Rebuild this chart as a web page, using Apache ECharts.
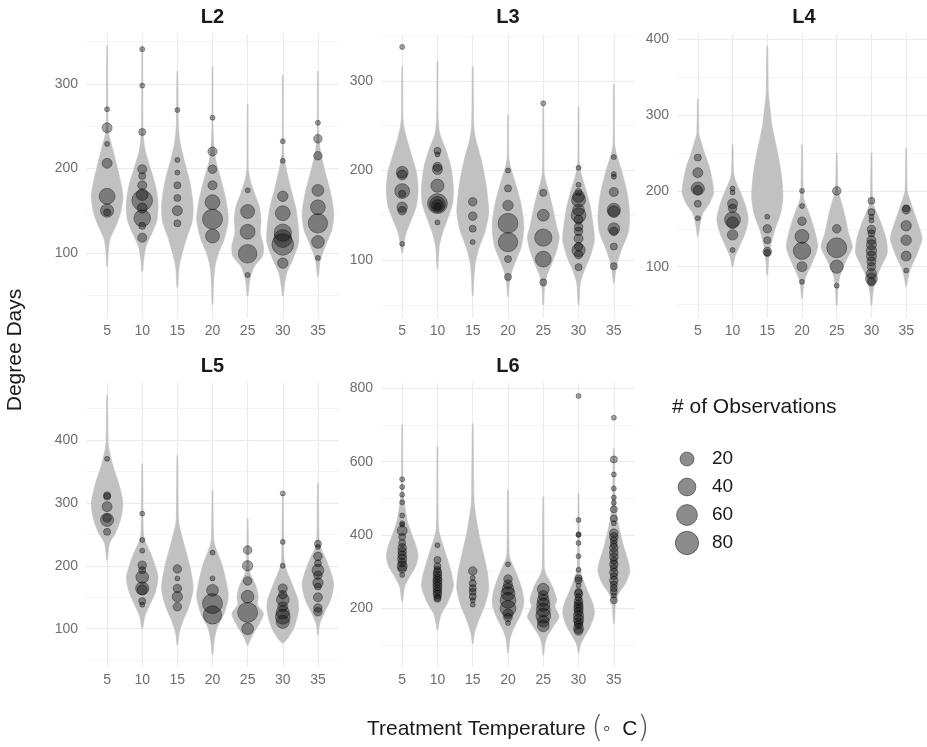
<!DOCTYPE html>
<html>
<head>
<meta charset="utf-8">
<script src="https://cdn.jsdelivr.net/npm/echarts@6/dist/echarts.min.js"></script>
<style>html,body{margin:0;padding:0;background:#fff;}#main{width:927px;height:747px;}</style>
</head>
<body>
<div id="main"></div>
<script>
// ---------- DATA ----------
const temps = [5, 10, 15, 20, 25, 30, 35];
const panelNames = ['L2', 'L3', 'L4', 'L5', 'L6'];
const legendCounts = [20, 40, 60, 80];

// y ranges and tick values per panel
const yRanges = [[23, 359], [35.2, 352.5], [32.3, 407], [39.2, 490.5], [40, 814.5]];
const yMajor = [[100, 200, 300], [100, 200, 300], [100, 200, 300, 400], [100, 200, 300, 400], [200, 400, 600, 800]];
const yMinor = [[50, 150, 250, 350], [50, 150, 250, 350], [50, 150, 250, 350], [50, 150, 250, 350, 450], [100, 300, 500, 700]];

// violin profiles: [degree days, half width as fraction of category spacing]
const violinL2 = [
  [[345,0.01],[260,0.02],[240,0.05],[226,0.14],[203,0.28],[185,0.38],[167,0.45],[147,0.38],[131,0.24],[116,0.08],[100,0.03],[84,0.01]],
  [[345,0.01],[250,0.02],[230,0.05],[218,0.1],[199,0.24],[179,0.38],[159,0.45],[139,0.42],[124,0.28],[108,0.11],[92,0.04],[78,0.01]],
  [[315,0.01],[250,0.03],[230,0.08],[210,0.19],[183,0.36],[155,0.45],[137,0.42],[120,0.28],[100,0.14],[84,0.05],[59,0.01]],
  [[321,0.01],[240,0.02],[210,0.09],[187,0.24],[163,0.38],[139,0.45],[116,0.33],[100,0.17],[84,0.07],[64,0.03],[39,0.01]],
  [[276,0.01],[200,0.02],[187,0.07],[171,0.19],[155,0.33],[139,0.38],[124,0.36],[108,0.45],[96,0.42],[84,0.19],[68,0.06],[49,0.01]],
  [[310,0.01],[220,0.02],[203,0.08],[179,0.21],[155,0.36],[132,0.44],[112,0.45],[92,0.28],[76,0.11],[60,0.04],[49,0.01]],
  [[315,0.01],[240,0.02],[218,0.08],[195,0.21],[171,0.36],[147,0.45],[128,0.4],[108,0.21],[92,0.07],[72,0.01]]
];
const violinL3 = [
  [[316,0.01],[260,0.02],[249,0.05],[234,0.14],[215,0.28],[197,0.41],[178,0.45],[160,0.4],[145,0.26],[130,0.11],[115,0.04],[108,0.01]],
  [[322,0.01],[260,0.02],[241,0.07],[223,0.24],[204,0.38],[182,0.45],[163,0.43],[145,0.28],[130,0.14],[115,0.05],[90,0.01]],
  [[316,0.01],[250,0.03],[234,0.09],[212,0.24],[189,0.36],[167,0.43],[152,0.45],[133,0.36],[115,0.19],[96,0.07],[78,0.03],[60,0.01]],
  [[262,0.01],[215,0.02],[204,0.07],[182,0.24],[160,0.38],[137,0.45],[115,0.38],[100,0.23],[85,0.09],[70,0.03],[59,0.01]],
  [[273,0.01],[200,0.02],[189,0.06],[174,0.17],[156,0.28],[137,0.38],[126,0.45],[111,0.38],[96,0.24],[81,0.09],[66,0.03],[50,0.01]],
  [[271,0.01],[210,0.02],[197,0.07],[178,0.21],[160,0.33],[137,0.42],[122,0.45],[104,0.33],[89,0.17],[74,0.05],[50,0.01]],
  [[296,0.01],[230,0.02],[219,0.07],[197,0.24],[174,0.38],[148,0.45],[130,0.4],[111,0.21],[93,0.07],[74,0.01]]
];
const violinL4 = [
  [[321,0.01],[275,0.03],[267,0.08],[250,0.19],[232,0.33],[210,0.43],[197,0.45],[183,0.33],[170,0.14],[153,0.05],[140,0.01]],
  [[261,0.01],[225,0.03],[214,0.08],[197,0.24],[179,0.38],[162,0.45],[144,0.36],[126,0.19],[113,0.07],[100,0.01]],
  [[391,0.01],[330,0.03],[320,0.05],[285,0.14],[254,0.28],[223,0.4],[192,0.45],[170,0.38],[148,0.21],[126,0.09],[109,0.04],[89,0.01]],
  [[261,0.01],[200,0.03],[188,0.06],[170,0.21],[148,0.36],[126,0.45],[104,0.28],[87,0.11],[74,0.04],[58,0.01]],
  [[250,0.01],[205,0.03],[197,0.06],[179,0.17],[162,0.26],[144,0.34],[126,0.45],[109,0.28],[91,0.11],[74,0.04],[49,0.01]],
  [[250,0.01],[190,0.03],[179,0.08],[157,0.28],[135,0.43],[117,0.45],[100,0.28],[82,0.11],[65,0.04],[49,0.01]],
  [[256,0.01],[200,0.03],[192,0.08],[170,0.24],[144,0.43],[135,0.45],[113,0.28],[96,0.11],[82,0.04],[74,0.01]]
];
const violinL5 = [
  [[471,0.01],[395,0.03],[384,0.06],[358,0.17],[331,0.33],[299,0.45],[273,0.38],[252,0.24],[236,0.07],[209,0.01]],
  [[362,0.01],[255,0.03],[241,0.07],[220,0.24],[198,0.38],[180,0.45],[156,0.36],[135,0.19],[119,0.07],[100,0.01]],
  [[376,0.01],[275,0.03],[262,0.06],[230,0.21],[198,0.36],[164,0.45],[135,0.33],[114,0.17],[93,0.05],[74,0.01]],
  [[320,0.01],[245,0.03],[230,0.08],[204,0.26],[172,0.4],[151,0.45],[124,0.33],[103,0.14],[82,0.05],[59,0.01]],
  [[275,0.01],[200,0.03],[188,0.07],[167,0.24],[151,0.3],[138,0.28],[124,0.45],[103,0.28],[87,0.11],[74,0.01]],
  [[313,0.01],[215,0.03],[198,0.07],[172,0.26],[146,0.43],[130,0.45],[103,0.33],[87,0.17],[80,0.07],[77,0.01]],
  [[331,0.01],[245,0.03],[230,0.07],[209,0.24],[188,0.38],[170,0.45],[146,0.36],[124,0.17],[108,0.05],[90,0.01]]
];
const violinL6 = [
  [[700,0.01],[520,0.02],[495,0.05],[441,0.14],[405,0.26],[368,0.4],[341,0.45],[314,0.38],[286,0.21],[259,0.07],[218,0.01]],
  [[641,0.01],[420,0.03],[386,0.11],[341,0.26],[295,0.4],[259,0.45],[214,0.28],[186,0.11],[159,0.04],[141,0.01]],
  [[704,0.01],[520,0.03],[477,0.05],[405,0.17],[350,0.3],[295,0.42],[250,0.45],[205,0.33],[168,0.17],[132,0.05],[104,0.01]],
  [[523,0.01],[350,0.03],[332,0.07],[295,0.24],[250,0.4],[214,0.45],[177,0.33],[141,0.14],[114,0.05],[79,0.01]],
  [[504,0.01],[310,0.03],[295,0.07],[259,0.26],[223,0.38],[205,0.33],[177,0.45],[150,0.28],[123,0.11],[100,0.04],[73,0.01]],
  [[513,0.01],[320,0.03],[295,0.07],[250,0.24],[214,0.4],[186,0.45],[150,0.33],[123,0.17],[100,0.05],[79,0.01]],
  [[636,0.01],[520,0.03],[477,0.05],[423,0.14],[368,0.28],[323,0.42],[300,0.45],[268,0.33],[241,0.14],[214,0.05],[159,0.01]]
];

// observation points: [temperature, degree days, # of observations]
const pointsL2 = [
  [5,270,1],[5,248,7],[5,229,1],[5,206,7],[5,167,29],[5,150,17],[5,148,2],
  [10,341,1],[10,298,1],[10,243,2],[10,199,5],[10,191,2],[10,180,5],[10,169,12],[10,162,59],[10,153,7],[10,141,33],[10,132,2],[10,118,5],
  [15,269,1],[15,210,1],[15,195,1],[15,180,2],[15,165,2],[15,150,7],[15,135,2],
  [20,260,1],[20,220,5],[20,199,4],[20,180,5],[20,160,24],[20,140,54],[20,120,20],
  [25,174,1],[25,149,20],[25,125,24],[25,99,45],[25,74,1],
  [30,232,1],[30,209,1],[30,167,8],[30,147,24],[30,124,37],[30,117,40],[30,110,66],[30,88,8],
  [35,254,1],[35,235,4],[35,215,4],[35,174,12],[35,154,24],[35,135,50],[35,113,15],[35,94,1]
];
const pointsL3 = [
  [5,338,1],[5,198,12],[5,195,7],[5,177,24],[5,174,2],[5,159,8],[5,155,4],[5,118,1],
  [10,222,2],[10,218,1],[10,204,5],[10,201,7],[10,183,17],[10,163,54],[10,162,29],[10,161,12],[10,160,2],[10,142,1],
  [15,165,4],[15,149,4],[15,135,2],[15,120,1],
  [20,200,1],[20,180,2],[20,161,8],[20,141,54],[20,120,50],[20,101,2],[20,81,2],
  [25,275,1],[25,175,2],[25,150,12],[25,125,37],[25,101,29],[25,75,2],
  [30,203,1],[30,184,1],[30,176,2],[30,171,12],[30,167,20],[30,156,12],[30,150,24],[30,145,5],[30,137,4],[30,132,4],[30,124,5],[30,115,4],[30,111,17],[30,106,4],[30,92,2],
  [35,215,1],[35,196,1],[35,193,1],[35,176,5],[35,156,17],[35,154,12],[35,135,12],[35,132,4],[35,115,2],[35,93,2]
];
const pointsL4 = [
  [5,244,2],[5,224,7],[5,203,17],[5,201,5],[5,183,2],[5,164,1],
  [10,203,1],[10,198,1],[10,183,7],[10,177,4],[10,162,29],[10,158,12],[10,142,8],[10,122,1],
  [15,166,1],[15,150,4],[15,135,2],[15,120,4],[15,118,2],
  [20,200,1],[20,180,1],[20,160,4],[20,140,20],[20,121,37],[20,100,7],[20,80,1],
  [25,200,4],[25,150,4],[25,125,54],[25,100,17],[25,75,1],
  [30,187,2],[30,172,2],[30,166,1],[30,161,1],[30,149,4],[30,144,2],[30,135,5],[30,129,7],[30,121,8],[30,114,7],[30,107,5],[30,100,4],[30,91,7],[30,84,12],[30,80,4],
  [35,177,2],[35,175,4],[35,154,8],[35,135,8],[35,114,7],[35,95,1]
];
const pointsL5 = [
  [5,370,1],[5,312,2],[5,310,2],[5,294,7],[5,276,4],[5,273,17],[5,254,2],
  [10,283,1],[10,241,1],[10,224,1],[10,201,4],[10,193,2],[10,182,15],[10,164,17],[10,162,7],[10,144,2],[10,138,1],
  [15,195,4],[15,180,1],[15,164,4],[15,151,8],[15,135,4],
  [20,221,1],[20,180,1],[20,161,12],[20,140,54],[20,122,43],
  [25,225,4],[25,200,8],[25,176,4],[25,151,15],[25,126,54],[25,100,12],
  [30,315,1],[30,238,1],[30,200,1],[30,164,5],[30,154,4],[30,146,15],[30,135,7],[30,126,17],[30,119,24],[30,111,17],
  [35,235,2],[35,230,1],[35,215,4],[35,204,2],[35,193,12],[35,185,4],[35,173,8],[35,167,2],[35,150,5],[35,133,4],[35,127,4]
];
const pointsL6 = [
  [5,552,1],[5,531,1],[5,510,1],[5,489,1],[5,453,1],[5,432,1],[5,428,1],[5,412,7],[5,395,2],[5,378,2],[5,365,4],[5,355,4],[5,345,4],[5,335,5],[5,325,4],[5,315,7],[5,308,4],[5,291,1],
  [10,372,1],[10,332,2],[10,315,2],[10,305,2],[10,298,4],[10,290,4],[10,282,4],[10,275,5],[10,268,4],[10,260,5],[10,252,4],[10,245,4],[10,238,4],[10,230,2],[10,226,2],
  [15,302,4],[15,283,1],[15,268,2],[15,255,2],[15,245,2],[15,232,2],[15,222,1],[15,210,1],
  [20,320,1],[20,280,4],[20,265,5],[20,252,12],[20,240,20],[20,222,29],[20,200,29],[20,185,7],[20,175,4],[20,160,1],
  [25,252,12],[25,235,7],[25,222,12],[25,210,17],[25,195,20],[25,180,24],[25,165,12],[25,152,12],
  [30,779,1],[30,441,1],[30,402,1],[30,400,1],[30,378,1],[30,342,1],[30,305,1],[30,282,2],[30,276,2],[30,262,1],[30,245,2],[30,240,4],[30,230,2],[30,220,4],[30,212,4],[30,205,5],[30,198,5],[30,190,5],[30,180,7],[30,170,7],[30,162,5],[30,155,4],[30,145,7],[30,138,4],
  [35,720,1],[35,606,2],[35,565,1],[35,527,1],[35,502,1],[35,488,1],[35,470,2],[35,445,2],[35,432,1],[35,405,4],[35,395,4],[35,385,2],[35,375,2],[35,365,4],[35,352,4],[35,340,4],[35,330,2],[35,320,4],[35,310,2],[35,298,4],[35,288,2],[35,276,4],[35,265,2],[35,255,2],[35,245,2],[35,235,1],[35,222,2]
];

// ---------- CHART ----------
const violins = [violinL2, violinL3, violinL4, violinL5, violinL6];
const points = [pointsL2, pointsL3, pointsL4, pointsL5, pointsL6];
const FONT = '"Liberation Sans", Arial, sans-serif';
const gridBoxes = [
  {left: 86, top: 34, width: 253, height: 284},
  {left: 381, top: 34, width: 254, height: 284},
  {left: 677, top: 34, width: 254, height: 284},
  {left: 86, top: 383, width: 253, height: 284},
  {left: 381, top: 383, width: 254, height: 284}
];
const step = temps[1] - temps[0];
function sizeOf(n) { return 5 + 2.06 * Math.sqrt(Math.max(0, n - 1)); }

const chart = echarts.init(document.getElementById('main'), null, {renderer: 'canvas'});
const xAxis = [], yAxis = [], series = [], graphic = [];
panelNames.forEach((name, i) => {
  xAxis.push({
    type: 'value', gridIndex: i, min: temps[0] - 0.6 * step, max: temps[temps.length - 1] + 0.6 * step,
    axisLine: {show: false},
    axisTick: {show: false, customValues: temps},
    axisLabel: {customValues: temps, color: '#6e6e6e', fontSize: 14, fontFamily: FONT, margin: 6},
    splitLine: {show: true, lineStyle: {color: '#ebebeb', width: 1.2}}
  });
  yAxis.push({
    type: 'value', gridIndex: i, min: yRanges[i][0], max: yRanges[i][1],
    axisLine: {show: false},
    axisTick: {show: false, customValues: yMajor[i]},
    axisLabel: {customValues: yMajor[i], color: '#6e6e6e', fontSize: 14, fontFamily: FONT, margin: 8},
    splitLine: {show: true, lineStyle: {color: '#ebebeb', width: 1.2}}
  });
  yAxis.push({
    type: 'value', gridIndex: i, min: yRanges[i][0], max: yRanges[i][1],
    axisLine: {show: false},
    axisTick: {show: false, customValues: yMinor[i]},
    axisLabel: {show: false, customValues: yMinor[i]},
    splitLine: {show: true, lineStyle: {color: '#f3f3f3', width: 0.8}}
  });
  const prof = violins[i];
  series.push({
    type: 'custom', xAxisIndex: i, yAxisIndex: 2 * i, z: 2,
    data: temps.map((t, k) => [t, yRanges[i][0] + 1, k]),
    encode: {x: 0, y: 1},
    silent: true,
    renderItem: function (params, api) {
      const t = api.value(0);
      const pr = prof[api.value(2)];
      const right = pr.map(p => api.coord([t + p[1] * step, p[0]]));
      const left = pr.map(p => api.coord([t - p[1] * step, p[0]])).reverse();
      return {
        type: 'polygon',
        shape: {points: right.concat(left), smooth: 0.25},
        style: {fill: '#c1c1c1', stroke: '#c1c1c1', lineWidth: 0.6}
      };
    }
  });
  series.push({
    type: 'scatter', xAxisIndex: i, yAxisIndex: 2 * i, z: 3,
    data: points[i],
    symbolSize: v => sizeOf(v[2]),
    itemStyle: {color: 'rgba(0,0,0,0.45)', borderColor: 'rgba(0,0,0,0.55)', borderWidth: 0.8}
  });
  const g = gridBoxes[i];
  graphic.push({
    type: 'text', x: g.left + g.width / 2, y: g.top - 17,
    style: {text: name, font: 'bold 20px ' + FONT, fill: '#1a1a1a', textAlign: 'center', textVerticalAlign: 'middle'}
  });
});

// axis titles
graphic.push({
  type: 'text', x: 15, y: 350, rotation: Math.PI / 2,
  style: {text: 'Degree Days', font: '21px ' + FONT, fill: '#1a1a1a', textAlign: 'center', textVerticalAlign: 'middle'}
});
graphic.push({
  type: 'text', x: 508, y: 729,
  style: {
    text: '{a|Treatment Temperature }{p|(}{b|◦  C}{p|)}',
    textAlign: 'center', textVerticalAlign: 'middle',
    rich: {
      a: {font: '21px ' + FONT, fill: '#1a1a1a'},
      b: {font: '21px ' + FONT, fill: '#1a1a1a'},
      p: {font: '300 30px "DejaVu Sans", ' + FONT, fill: '#555'}
    }
  }
});
// size legend
graphic.push({
  type: 'text', x: 672, y: 407,
  style: {text: '# of Observations', font: '21px ' + FONT, fill: '#1a1a1a', textAlign: 'left', textVerticalAlign: 'middle'}
});
legendCounts.forEach((n, k) => {
  const cy = 459 + k * 28;
  graphic.push({
    type: 'circle', shape: {cx: 687, cy: cy, r: sizeOf(n) / 2},
    style: {fill: 'rgba(0,0,0,0.45)', stroke: 'rgba(0,0,0,0.55)', lineWidth: 0.8}
  });
  graphic.push({
    type: 'text', x: 712, y: cy,
    style: {text: String(n), font: '19px ' + FONT, fill: '#1a1a1a', textAlign: 'left', textVerticalAlign: 'middle'}
  });
});

chart.setOption({
  animation: false,
  backgroundColor: '#ffffff',
  grid: gridBoxes,
  xAxis: xAxis,
  yAxis: yAxis,
  series: series,
  graphic: graphic
});
</script>
</body>
</html>
